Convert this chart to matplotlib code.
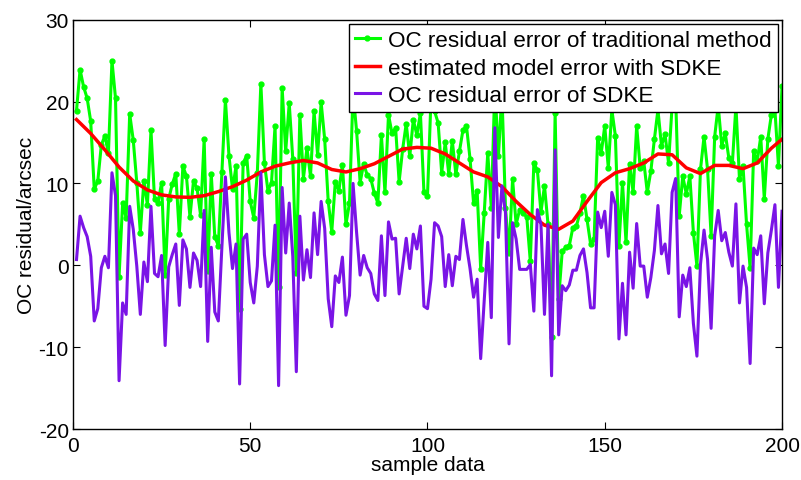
import numpy as np
import matplotlib
matplotlib.use('Agg')
import matplotlib.pyplot as plt

plt.rcParams['font.family'] = ['Liberation Sans', 'DejaVu Sans']
plt.rcParams['axes.unicode_minus'] = False

# sample index 1..200
samples = np.arange(1, 201)

# OC residual error of traditional method (green)
oc_traditional = [
    18.9, 23.9, 21.8, 20.4, 17.6, 9.3, 10.3, 14.7, 15.8, 13.7,
    25.0, 20.4, -1.4, 7.6, 5.8, 18.5, 15.3, 10.1, 4.0, 10.3,
    7.4, 16.5, 8.1, 7.6, 10.1, -1.2, 8.1, 9.9, 11.2, 3.8,
    12.1, 10.9, 5.9, 10.3, 9.4, 6.1, 15.4, -0.7, 11.2, 3.5,
    2.4, 11.4, 20.2, 13.4, 9.3, 12.1, -5.4, 12.5, 13.4, 7.8,
    5.8, 11.3, 22.2, 12.5, 9.1, 10.1, 17.0, -2.7, 21.7, 13.9,
    19.8, 13.0, -0.9, 18.4, 10.6, 14.3, 10.9, 18.8, 13.5, 19.9,
    15.4, 7.8, 4.1, 10.2, 9.1, 12.3, 5.0, 7.6, 21.1, 16.4,
    10.1, 12.4, 11.0, 10.6, 8.8, 7.6, 15.9, 8.9, 18.4, 16.1,
    16.8, 10.2, 14.2, 17.3, 13.3, 17.8, 15.9, 18.6, 8.9, 8.5,
    20.5, 18.8, 17.4, 11.3, 15.0, 11.2, 15.2, 11.1, 13.9, 16.5,
    17.0, 13.0, 7.6, 9.1, -0.4, 6.4, 13.7, 7.0, 22.0, 13.3,
    21.0, 7.0, 1.5, 10.5, 5.0, 6.8, 6.4, 5.9, 0.5, 12.5,
    11.6, 6.5, 9.7, 5.0, -8.8, 18.6, -4.1, 1.7, 2.2, 2.4,
    4.6, 4.8, 6.4, 8.5, 5.6, 2.6, 3.2, 15.6, 13.7, 17.0,
    11.9, 19.0, 15.8, 2.4, 10.1, 2.8, 12.4, 8.9, 17.0, 11.9,
    12.7, 8.9, 11.5, 15.4, 19.0, 14.6, 16.0, 12.5, 19.5, 20.5,
    6.0, 10.9, 8.7, 10.9, 4.0, -0.1, 11.7, 15.7, 11.7, 3.6,
    15.7, 19.5, 14.6, 16.1, 13.1, 12.5, 19.5, 10.5, 12.1, 5.0,
    -0.3, 13.9, 12.7, 15.7, 8.1, 15.4, 18.4, 19.0, 12.1, 21.9,
]

# OC residual error of SDKE (purple)
oc_sdke = [
    0.7, 6.0, 4.6, 3.5, 1.1, -6.8, -5.3, -0.3, 1.1, -0.3,
    11.3, 8.5, -14.1, -4.6, -6.0, 7.2, 4.4, -0.1, -6.0, 0.4,
    -2.0, 7.2, -1.0, -1.4, 1.2, -9.8, -0.2, 1.3, 2.6, -4.9,
    3.1, 2.0, -2.7, 1.5, 0.6, -2.6, 6.7, -9.3, 2.2, -5.7,
    -6.8, 2.2, 10.8, 4.0, -0.4, 2.6, -14.5, 3.2, 3.8, -2.1,
    -4.6, -0.1, 11.3, 1.3, -2.6, -1.9, 4.9, -14.7, 9.5, 1.5,
    7.6, 1.1, -13.0, 6.0, -1.8, 1.9, -1.5, 6.4, 1.3, 7.8,
    4.5, -4.1, -7.5, -1.3, -2.1, 1.0, -6.1, -3.7, 10.0, 4.0,
    -1.2, 1.2, -0.3, -1.0, -3.5, -4.3, 3.6, -3.7, 5.3, 3.2,
    3.3, -3.5, -0.1, 3.3, -0.4, 3.8, 2.0, 4.8, -5.0, -5.3,
    -1.7, 5.2, 4.8, 3.5, -2.6, 1.3, -2.5, 1.1, 0.7, 5.6,
    2.4, -0.4, -3.9, -1.7, -11.4, -4.3, 2.8, -6.4, 16.8, 3.4,
    9.7, 6.4, -9.6, 5.2, 3.2, -0.5, -0.5, -0.5, 0.1, -5.6,
    6.8, 5.0, -6.0, 5.0, -13.5, 14.1, -8.5, -2.5, -3.1, -2.4,
    -0.6, -0.6, 1.2, 2.0, -0.9, -5.2, -5.2, 6.5, 4.6, 6.6,
    1.1, 8.9, 7.4, -9.0, -2.2, -8.5, 1.6, -2.8, 5.1, -0.1,
    -0.1, -3.9, -1.5, 1.8, 7.3, 1.4, 2.6, -1.0, 8.9, 10.6,
    -6.3, -1.2, -2.6, -0.3, -7.1, -11.1, 0.1, 4.3, 0.7, -7.7,
    3.6, 6.7, 3.0, 4.0, 1.6, -0.1, 7.5, -4.6, -0.1, -2.7,
    -12.0, 2.1, 1.3, 3.6, -4.7, 1.5, 4.3, 7.4, -2.7, 6.6,
]

# estimated model error with SDKE (red, smooth curve)
model_x = [1, 5, 9, 13, 17, 21, 25, 29, 33, 37, 41, 45, 49, 53, 57, 61, 65,
           69, 73, 77, 81, 85, 89, 93, 97, 101, 105, 109, 113, 117, 121, 125,
           129, 133, 137, 141, 145, 149, 153, 157, 161, 165, 169, 173, 177,
           181, 185, 189, 193, 197, 200]
model_err = [17.8, 16.1, 14.1, 12.0, 10.3, 9.2, 8.6, 8.35, 8.3, 8.5, 9.0,
             9.6, 10.4, 11.4, 12.1, 12.5, 12.8, 12.5, 11.7, 11.4, 11.8, 12.4,
             13.3, 14.2, 14.4, 14.3, 13.6, 12.5, 11.4, 10.8, 9.6, 7.8, 6.2,
             4.9, 4.4, 5.4, 7.8, 10.1, 11.3, 11.8, 12.5, 13.6, 13.5, 11.9,
             11.2, 12.2, 12.2, 11.8, 12.5, 14.3, 15.4]

fig = plt.figure(figsize=(8.01, 4.81), dpi=100)
ax = fig.add_axes([0.0911, 0.106, 0.8852, 0.851])

ax.plot(samples, oc_traditional, color='#00ff00', lw=2.2, marker='.',
        markersize=7, label='OC residual error of traditional method')
ax.plot(model_x, model_err, color='#ff0000', lw=2.5,
        label='estimated model error with SDKE')
ax.plot(samples, oc_sdke, color='#7a14e6', lw=2.2,
        label='OC residual error of SDKE')

ax.set_xlim(0, 200)
ax.set_ylim(-20, 30)
ax.set_xticks([0, 50, 100, 150, 200])
ax.set_yticks([-20, -10, 0, 10, 20, 30])
ax.tick_params(direction='in', top=True, right=True, labelsize=15, length=5)
ax.tick_params(axis='x', pad=5)
ax.tick_params(axis='y', pad=3)
for s in ax.spines.values():
    s.set_linewidth(1)
ax.set_xlabel('sample data', fontsize=15, labelpad=0)
ax.set_ylabel('OC residual/arcsec', fontsize=15, labelpad=2)

leg = ax.legend(loc='upper right', fontsize=16.2, frameon=True, fancybox=False,
                borderpad=0.25, labelspacing=0.3, handlelength=1.15,
                handletextpad=0.35, borderaxespad=0.2)
leg.get_frame().set_edgecolor('black')
leg.get_frame().set_linewidth(1)
leg.get_frame().set_alpha(1)

fig.savefig('out.png', dpi=100)
